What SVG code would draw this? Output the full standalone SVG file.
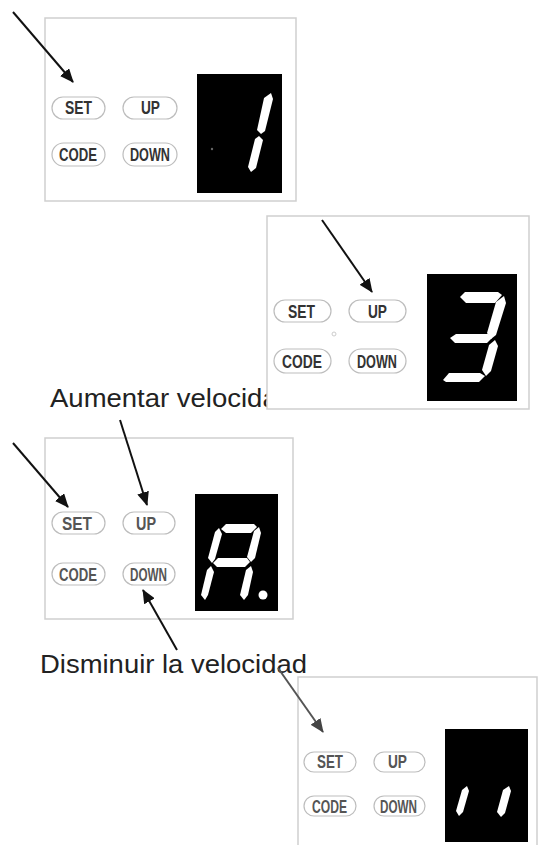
<svg xmlns="http://www.w3.org/2000/svg" width="539" height="845" viewBox="0 0 539 845">
<style>
.panel{fill:#fff;stroke:#cfcfcf;stroke-width:1.5}
.disp{fill:#000}
.seg{fill:#fff}
.pill{fill:#fff;stroke:#bdbdbd;stroke-width:1.2}
.pt{font-family:"Liberation Sans",Arial,sans-serif;font-weight:bold;font-size:18px;fill:#333;text-anchor:start}
.pt3{fill:#555}
.lbl{font-family:"Liberation Sans",Arial,sans-serif;font-size:26px;fill:#222}
.arr{stroke:#111;stroke-width:2;fill:none;marker-end:url(#ah)}
.arrg{stroke:#555;stroke-width:2;fill:none;marker-end:url(#ahg)}
</style>
<defs>
<marker id="ah" viewBox="0 0 14 12" refX="13" refY="6" markerWidth="14" markerHeight="12" markerUnits="userSpaceOnUse" orient="auto"><path d="M0,0 L14,6 L0,12 z" fill="#111"/></marker>
<marker id="ahg" viewBox="0 0 14 12" refX="13" refY="6" markerWidth="14" markerHeight="12" markerUnits="userSpaceOnUse" orient="auto"><path d="M0,0 L14,6 L0,12 z" fill="#444"/></marker>
</defs>
<rect width="539" height="845" fill="#fff"/>

<g id="panel1">
<rect class="panel" x="45" y="18" width="251" height="183"/>
<rect class="pill" x="52" y="97" width="53" height="22" rx="11"/>
<rect class="pill" x="123" y="97" width="54" height="22" rx="11"/>
<rect class="pill" x="52" y="143" width="53" height="23" rx="11.5"/>
<rect class="pill" x="123" y="143" width="54" height="23" rx="11.5"/>
<text class="pt" x="65" y="114" textLength="27" lengthAdjust="spacingAndGlyphs">SET</text>
<text class="pt" x="141" y="114" textLength="19" lengthAdjust="spacingAndGlyphs">UP</text>
<text class="pt" x="59" y="161" textLength="38" lengthAdjust="spacingAndGlyphs">CODE</text>
<text class="pt" x="130" y="161" textLength="40" lengthAdjust="spacingAndGlyphs">DOWN</text>
<rect class="disp" x="197" y="74" width="85" height="119"/>
<circle cx="212" cy="149" r="1.2" fill="#666"/>
<polygon class="seg" points="271,93 273,99 265,131 261,134 257,130 264,98"/>
<polygon class="seg" points="259,136 263,140 256,168 251,172 248,167 255,139"/>
</g>

<text id="label-aumentar" class="lbl" x="50" y="407" textLength="243" lengthAdjust="spacingAndGlyphs">Aumentar velocidad</text>

<g id="panel2">
<rect class="panel" x="267" y="216" width="262" height="193"/>
<rect class="pill" x="274" y="300" width="57" height="22" rx="11"/>
<rect class="pill" x="349" y="300" width="57" height="22" rx="11"/>
<rect class="pill" x="274" y="349" width="57" height="24" rx="12"/>
<rect class="pill" x="349" y="349" width="57" height="24" rx="12"/>
<text class="pt" x="288" y="318" textLength="27" lengthAdjust="spacingAndGlyphs">SET</text>
<text class="pt" x="368" y="318" textLength="19" lengthAdjust="spacingAndGlyphs">UP</text>
<text class="pt" x="282" y="368" textLength="40" lengthAdjust="spacingAndGlyphs">CODE</text>
<text class="pt" x="357" y="368" textLength="40" lengthAdjust="spacingAndGlyphs">DOWN</text>
<circle cx="334" cy="334" r="2" fill="none" stroke="#ccc" stroke-width="1"/>
<rect class="disp" x="427" y="274" width="90" height="127"/>
<polygon class="seg" points="460,297 465,292 498,292 502,295 495,303 466,303"/>
<polygon class="seg" points="504,296 506,303 496,335 491,339 487,333 496,302"/>
<polygon class="seg" points="450,338 456,334 488,334 492,338 487,343 455,343"/>
<polygon class="seg" points="495,340 498,346 491,371 486,376 482,370 489,345"/>
<polygon class="seg" points="443,380 449,373 480,373 485,376 479,382 446,382"/>
</g>

<g id="panel3">
<rect class="panel" x="45" y="438" width="248" height="181"/>
<rect class="pill" x="52" y="512" width="53" height="22" rx="11"/>
<rect class="pill" x="123" y="512" width="52" height="22" rx="11"/>
<rect class="pill" x="52" y="563" width="53" height="22" rx="11"/>
<rect class="pill" x="123" y="563" width="52" height="22" rx="11"/>
<text class="pt pt3" x="62" y="530" textLength="30" lengthAdjust="spacingAndGlyphs">SET</text>
<text class="pt pt3" x="136" y="530" textLength="20" lengthAdjust="spacingAndGlyphs">UP</text>
<text class="pt pt3" x="59" y="581" textLength="38" lengthAdjust="spacingAndGlyphs">CODE</text>
<text class="pt pt3" x="130" y="581" textLength="37" lengthAdjust="spacingAndGlyphs">DOWN</text>
<rect class="disp" x="195" y="494" width="83" height="117"/>
<polygon class="seg" points="221,529 226,524 254,524 257,527 251,533 226,533"/>
<polygon class="seg" points="219,528 222,534 215,559 212,563 208,558 215,532"/>
<polygon class="seg" points="259,527 261,533 255,558 251,562 247,557 254,531"/>
<polygon class="seg" points="213,563 218,558 247,558 250,562 245,567 217,567"/>
<polygon class="seg" points="211,566 214,572 208,595 205,600 201,595 207,570"/>
<polygon class="seg" points="251,566 253,572 248,595 244,600 240,595 246,570"/>
<circle class="seg" cx="263" cy="595" r="4.5"/>
</g>

<text id="label-disminuir" class="lbl" x="40" y="673" textLength="267" lengthAdjust="spacingAndGlyphs">Disminuir la velocidad</text>

<g id="panel4">
<rect class="panel" x="298" y="677" width="239" height="200"/>
<rect class="pill" x="304" y="752" width="52" height="20" rx="10"/>
<rect class="pill" x="374" y="752" width="51" height="20" rx="10"/>
<rect class="pill" x="304" y="796" width="52" height="20" rx="10"/>
<rect class="pill" x="374" y="796" width="51" height="20" rx="10"/>
<text class="pt pt3" x="317" y="768" font-size="17" textLength="26" lengthAdjust="spacingAndGlyphs">SET</text>
<text class="pt pt3" x="388" y="768" font-size="17" textLength="19" lengthAdjust="spacingAndGlyphs">UP</text>
<text class="pt pt3" x="312" y="813" font-size="17" textLength="35" lengthAdjust="spacingAndGlyphs">CODE</text>
<text class="pt pt3" x="380" y="813" font-size="17" textLength="37" lengthAdjust="spacingAndGlyphs">DOWN</text>
<rect class="disp" x="445" y="729" width="83" height="113"/>
<polygon class="seg" points="467,786 469,791 463,812 459,816 456,811 462,790"/>
<polygon class="seg" points="509,786 511,791 505,813 501,817 497,812 503,790"/>
</g>

<g id="connectors">
<line class="arr" x1="13" y1="12" x2="73" y2="82"/>
<line class="arr" x1="322" y1="220" x2="372" y2="292"/>
<line class="arr" x1="13" y1="443" x2="68" y2="507"/>
<line class="arr" x1="120" y1="420" x2="147" y2="505"/>
<line class="arr" x1="177" y1="650" x2="143" y2="590"/>
<line class="arrg" x1="278" y1="668" x2="323" y2="732"/>
</g>
</svg>
